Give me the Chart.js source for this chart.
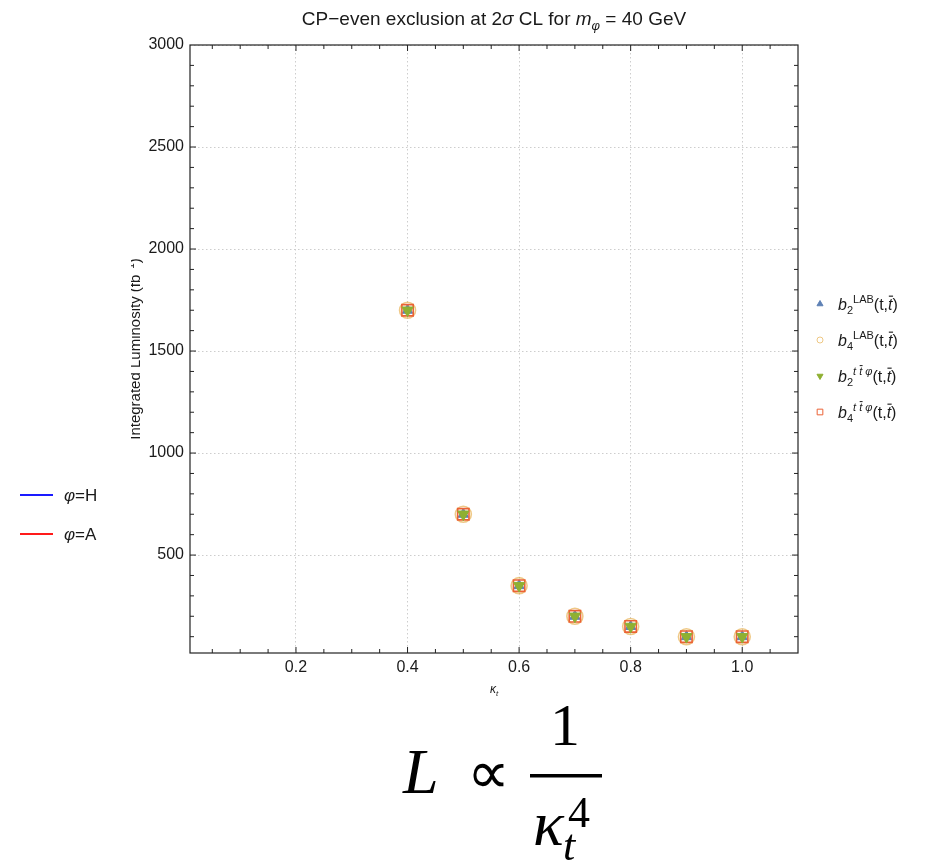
<!DOCTYPE html>
<html>
<head>
<meta charset="utf-8">
<script src="https://cdn.jsdelivr.net/npm/chart.js@4/dist/chart.umd.min.js"></script>
<style>
  html, body { margin: 0; padding: 0; background: #fff; }
  #wrap { width: 929px; height: 861px; }
</style>
</head>
<body>
<div id="wrap"><canvas id="c" width="929" height="861"></canvas></div>
<script>
// ── DATA ──
const KAPPA     = [0.4, 0.5, 0.6, 0.7, 0.8, 0.9, 1.0];
const B2_LAB    = [1700, 700, 350, 200, 150, 100, 100];
const B4_LAB    = [1700, 700, 350, 200, 150, 100, 100];
const B2_TTPHI  = [1700, 700, 350, 200, 150, 100, 100];
const B4_TTPHI  = [1700, 700, 350, 200, 150, 100, 100];
const X_TICKS   = [0.2, 0.4, 0.6, 0.8, 1.0];
const Y_TICKS   = [500, 1000, 1500, 2000, 2500, 3000];
const LINE_LABELS = ['H', 'A'];

// ── STYLE ──
const SANS  = "'Liberation Sans', Arial, sans-serif";
const SERIF = "'Liberation Serif', 'Times New Roman', serif";
const C = {
  blue:   '#5E81B5',
  orange: 'rgba(225,156,36,0.55)',
  green:  '#8FB032',
  red:    '#EB6235',
  lineH:  '#1a1aff',
  lineA:  '#ff1a1a',
  grid:   '#cdcdcd',
  frame:  '#222222',
  text:   '#1a1a1a',
};
const AREA = { left: 190, right: 798, top: 45, bottom: 653 };

const pts = ys => KAPPA.map((x, i) => ({ x, y: ys[i] }));

// rich text: list of segments { t, f, dy, bar }
function richWidth(ctx, segs) {
  let w = 0;
  segs.forEach(s => { ctx.font = s.f; w += ctx.measureText(s.t).width; });
  return w;
}
function drawRich(ctx, segs, x, y, align) {
  let cx = align === 'center' ? x - richWidth(ctx, segs) / 2 : x;
  segs.forEach(s => {
    ctx.font = s.f;
    const w = ctx.measureText(s.t).width;
    ctx.fillText(s.t, cx, y + (s.dy || 0));
    if (s.bar) {
      const size = parseFloat(s.f.match(/(\d+(\.\d+)?)px/)[1]);
      const lead = s.t.startsWith(' ') ? ctx.measureText(' ').width : 0;
      ctx.fillRect(cx + lead + size * 0.05, y + (s.dy || 0) - size * 0.9, (w - lead) * 0.95, Math.max(1, size * 0.07));
    }
    cx += w;
  });
}

const it  = (px, fam = SANS) => `italic ${px}px ${fam}`;
const up  = (px, fam = SANS) => `${px}px ${fam}`;

function legendSegs(sub, sup) {
  const s = [{ t: 'b', f: it(16) }, { t: sub, f: up(11), dy: 4 }];
  if (sup === 'LAB') s.push({ t: 'LAB', f: up(11), dy: -7 });
  else {
    s.push({ t: 't', f: it(11), dy: -7 });
    s.push({ t: ' t', f: it(11), dy: -7, bar: true });
    s.push({ t: ' φ', f: it(11), dy: -7 });
  }
  s.push({ t: '(t,', f: up(16) }, { t: 't', f: it(16), bar: true }, { t: ')', f: up(16) });
  return s;
}

// ── FRAME, TICKS, TEXT PLUGIN ──
const decor = {
  id: 'decor',
  afterDraw(chart) {
    const { ctx, chartArea: { left, right, top, bottom }, scales: { x, y } } = chart;
    ctx.save();

    // frame
    ctx.strokeStyle = C.frame;
    ctx.lineWidth = 1.2;
    ctx.strokeRect(left, top, right - left, bottom - top);

    // inward ticks on all sides
    ctx.lineWidth = 1;
    for (let k = 1; k <= 21; k++) {
      const v = k * 0.05;
      const px = x.getPixelForValue(v);
      if (px <= left || px >= right) continue;
      const len = (k % 4 === 0) ? 6 : 4;
      ctx.beginPath();
      ctx.moveTo(px, bottom); ctx.lineTo(px, bottom - len);
      ctx.moveTo(px, top);    ctx.lineTo(px, top + len);
      ctx.stroke();
    }
    for (let v = 100; v < 3000; v += 100) {
      const py = y.getPixelForValue(v);
      if (py <= top || py >= bottom) continue;
      const len = (v % 500 === 0) ? 6 : 4;
      ctx.beginPath();
      ctx.moveTo(left, py);  ctx.lineTo(left + len, py);
      ctx.moveTo(right, py); ctx.lineTo(right - len, py);
      ctx.stroke();
    }

    ctx.fillStyle = C.text;
    ctx.textBaseline = 'alphabetic';

    // title
    drawRich(ctx, [
      { t: 'CP−even exclusion at 2', f: up(19) },
      { t: 'σ', f: it(19) },
      { t: ' CL for ', f: up(19) },
      { t: 'm', f: it(19) },
      { t: 'φ', f: it(13), dy: 5 },
      { t: ' = 40 GeV', f: up(19) },
    ], (left + right) / 2, 25, 'center');

    // y axis title (rotated, clipped at the left like the original)
    ctx.save();
    ctx.beginPath();
    ctx.rect(131, 0, 60, 861);
    ctx.clip();
    ctx.translate(140, (top + bottom) / 2);
    ctx.rotate(-Math.PI / 2);
    drawRich(ctx, [
      { t: 'Integrated Luminosity (fb', f: up(15) },
      { t: '−1', f: up(10), dy: -6 },
      { t: ')', f: up(15) },
    ], 0, 0, 'center');
    ctx.restore();

    // x axis title
    drawRich(ctx, [
      { t: 'κ', f: it(12) },
      { t: 't', f: it(8), dy: 3 },
    ], (left + right) / 2, 693, 'center');

    // right legend
    chart.data.datasets.forEach((d, i) => {
      const ly = 304 + i * 36;
      ctx.save();
      ctx.strokeStyle = d.borderColor;
      ctx.fillStyle = d.backgroundColor;
      ctx.lineWidth = 1;
      Chart.helpers.drawPoint(ctx, {
        pointStyle: d.pointStyle, rotation: d.rotation || 0,
        radius: d.legendRadius, borderWidth: 1
      }, 820, ly);
      ctx.restore();
      drawRich(ctx, d.segs, 838, ly + 6, 'left');
    });

    // left legend (phi = H / A)
    [C.lineH, C.lineA].forEach((col, i) => {
      const ly = 495 + i * 39;
      ctx.strokeStyle = col;
      ctx.lineWidth = 2.2;
      ctx.beginPath();
      ctx.moveTo(20, ly); ctx.lineTo(53, ly);
      ctx.stroke();
      ctx.fillStyle = C.text;
      drawRich(ctx, [
        { t: 'φ', f: it(17) },
        { t: '=' + LINE_LABELS[i], f: up(17) },
      ], 64, ly + 6, 'left');
    });

    // formula L ∝ 1 / κ_t^4
    ctx.fillStyle = '#000';
    ctx.font = it(64, SERIF);
    ctx.fillText('L', 403, 793);
    ctx.font = up(60, SERIF);
    ctx.textAlign = 'center';
    ctx.fillText('∝', 488, 793);
    ctx.fillText('1', 565, 745);
    ctx.textAlign = 'left';
    ctx.fillRect(530, 774, 72, 3.5);
    ctx.font = it(64, SERIF);
    ctx.fillText('κ', 533, 845);
    ctx.font = it(44, SERIF);
    ctx.fillText('t', 563, 860);
    ctx.font = up(44, SERIF);
    ctx.fillText('4', 568, 827);

    ctx.restore();
  }
};

const ctx = document.getElementById('c').getContext('2d');
new Chart(ctx, {
  type: 'scatter',
  data: {
    datasets: [
      {
        label: 'b2 LAB', data: pts(B2_LAB), order: 4,
        pointStyle: 'triangle', pointRadius: 6, legendRadius: 3.5,
        backgroundColor: C.blue, borderColor: C.blue, borderWidth: 1,
        segs: legendSegs('2', 'LAB'),
      },
      {
        label: 'b4 LAB', data: pts(B4_LAB), order: 3,
        pointStyle: 'circle', pointRadius: 8, legendRadius: 3,
        backgroundColor: 'rgba(0,0,0,0)', borderColor: C.orange, borderWidth: 1.6,
        segs: legendSegs('4', 'LAB'),
      },
      {
        label: 'b2 ttphi', data: pts(B2_TTPHI), order: 1,
        pointStyle: 'triangle', rotation: 180, pointRadius: 6.5, legendRadius: 3.5,
        backgroundColor: C.green, borderColor: C.green, borderWidth: 1,
        segs: legendSegs('2', 'ttphi'),
      },
      {
        label: 'b4 ttphi', data: pts(B4_TTPHI), order: 2,
        pointStyle: 'rect', pointRadius: 8, legendRadius: 4,
        backgroundColor: 'rgba(0,0,0,0)', borderColor: C.red, borderWidth: 1.6,
        segs: legendSegs('4', 'ttphi'),
      },
    ]
  },
  options: {
    responsive: false,
    animation: false,
    layout: { padding: { left: 0, right: 929 - AREA.right, top: AREA.top, bottom: 861 - AREA.bottom - 30 } },
    plugins: { legend: { display: false }, tooltip: { enabled: false }, title: { display: false } },
    scales: {
      x: {
        type: 'linear', min: 0.01, max: 1.1,
        afterBuildTicks: s => { s.ticks = X_TICKS.map(v => ({ value: v })); },
        afterFit: s => { s.height = 30; },
        ticks: { color: C.text, font: { family: SANS, size: 16 }, padding: 5,
                 callback: v => v.toFixed(1) },
        grid: { color: C.grid, lineWidth: 1, drawTicks: false },
        border: { display: false, dash: [1.5, 2.5] },
      },
      y: {
        type: 'linear', min: 20, max: 3000,
        afterBuildTicks: s => { s.ticks = Y_TICKS.map(v => ({ value: v })); },
        afterFit: s => { s.width = AREA.left; },
        ticks: { color: C.text, font: { family: SANS, size: 16 }, padding: 6,
                 callback: v => String(v) },
        grid: { color: C.grid, lineWidth: 1, drawTicks: false },
        border: { display: false, dash: [1.5, 2.5] },
      }
    }
  },
  plugins: [decor]
});
</script>
</body>
</html>
